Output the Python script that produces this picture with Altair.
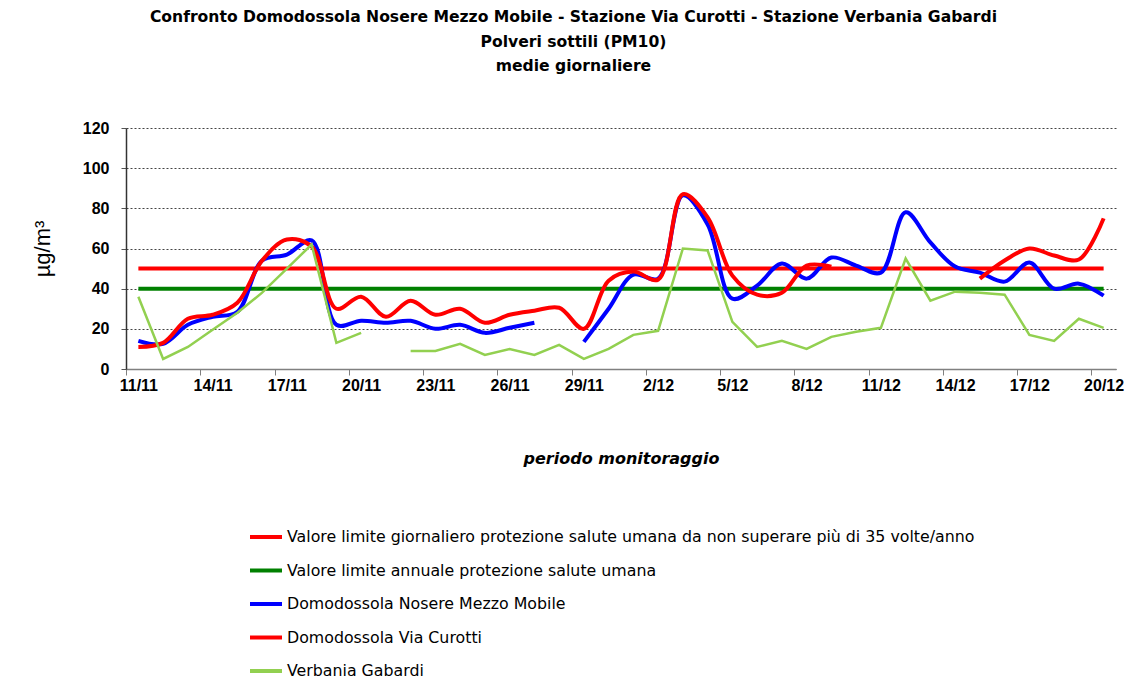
import altair as alt
import pandas as pd

# ---------------- data ----------------
days = ["11/11", "12/11", "13/11", "14/11", "15/11", "16/11", "17/11", "18/11", "19/11", "20/11",
        "21/11", "22/11", "23/11", "24/11", "25/11", "26/11", "27/11", "28/11", "29/11", "30/11",
        "1/12", "2/12", "3/12", "4/12", "5/12", "6/12", "7/12", "8/12", "9/12", "10/12",
        "11/12", "12/12", "13/12", "14/12", "15/12", "16/12", "17/12", "18/12", "19/12", "20/12"]

tick_labels = ["11/11", "14/11", "17/11", "20/11", "23/11", "26/11", "29/11",
               "2/12", "5/12", "8/12", "11/12", "14/12", "17/12", "20/12"]

nosere = [14, 12.5, 22, 26, 28.5, 54, 57, 64, 22, 24,
          23, 24, 20, 22, 18, 20.5, 23, None, 13.5, 30,
          47, 45, 86.5, 72, 35, 41.5, 52.5, 45, 55.5, 51.5,
          48, 78, 63, 51, 48, 43.5, 53, 40, 42.5, 36.5]

curotti = [11, 13, 25, 27, 33, 54, 64.5, 61, 30, 36,
           26, 34, 27, 30, 23, 27, 29, 30.5, 20, 44,
           48.5, 44.5, 87, 75.5, 46.5, 37, 38, 51.5, 51, None,
           None, None, None, None, 45, 54, 60, 56.5, 54.5, 75]

gabardi = [36, 5, 11, 19.5, 28, 38, 50, 62, 13, 18,
           None, 9, 9, 12.5, 7, 10, 7, 12, 5, 10,
           17, 19, 60, 59, 23.5, 11, 14, 10, 16, 18.5,
           20.5, 55, 34, 38.5, 38, 37, 17, 14, 25, 20.5]

limite_giornaliero = 50
limite_annuale = 40

names = ["Valore limite giornaliero protezione salute umana da non superare più di 35 volte/anno",
         "Valore limite annuale protezione salute umana",
         "Domodossola Nosere Mezzo Mobile",
         "Domodossola Via Curotti",
         "Verbania Gabardi"]
colors = ["#FF0000", "#008000", "#0000FF", "#FF0000", "#92D050"]

series_values = [
    [limite_giornaliero] * len(days),
    [limite_annuale] * len(days),
    nosere,
    curotti,
    gabardi,
]

rows = []
for name, vals in zip(names, series_values):
    seg = 0
    prev_none = False
    for i, v in enumerate(vals):
        if v is None:
            prev_none = True
            continue
        if prev_none:
            seg += 1
            prev_none = False
        rows.append({"day": i, "label": days[i], "series": name, "value": v, "seg": seg})
df = pd.DataFrame(rows)

# ---------------- chart ----------------
label_expr = "[" + ",".join("'%s'" % t for t in tick_labels) + "][round((datum.value + 0.5) / 3)]"

x_enc = alt.X(
    "day:Q",
    scale=alt.Scale(domain=[-0.5, 39.5], nice=False, zero=False),
    axis=alt.Axis(
        values=[-0.5 + 3 * k for k in range(len(tick_labels))],
        labelExpr=label_expr,
        labelOffset=12.37,
        labelFlush=False,
        labelOverlap=False,
        grid=False,
        title="periodo monitoraggio",
        titleFont="DejaVu Sans",
        titleFontSize=16,
        titleFontWeight="bold",
        titleFontStyle="italic",
        titlePadding=57,
        titleColor="#000000",
        labelFont="Liberation Sans",
        labelFontSize=16,
        labelFontWeight="bold",
        labelColor="#000000",
        labelPadding=2,
        tickSize=6,
        tickColor="#808080",
        domainColor="#808080",
        domainWidth=1.5,
    ),
)

y_enc = alt.Y(
    "value:Q",
    scale=alt.Scale(domain=[0, 120], nice=False),
    axis=alt.Axis(
        values=[0, 20, 40, 60, 80, 100, 120],
        grid=True,
        gridDash=[2, 2],
        gridColor="#444444",
        gridWidth=1,
        title="µg/m³",
        titleFont="Liberation Sans",
        titleFontSize=22,
        titleFontWeight="normal",
        titleColor="#000000",
        titlePadding=28,
        labelFont="Liberation Sans",
        labelFontSize=16,
        labelFontWeight="bold",
        labelColor="#000000",
        labelPadding=12,
        tickSize=5,
        tickColor="#555555",
        domainColor="#333333",
        domainWidth=1.5,
    ),
)

color_enc = alt.Color(
    "series:N",
    scale=alt.Scale(domain=names, range=colors),
    sort=names,
    title=None,
    legend=alt.Legend(
        orient="none",
        legendX=122,
        legendY=391,
        direction="vertical",
        symbolType="stroke",
        symbolSize=1024,
        symbolStrokeWidth=4,
        labelFont="DejaVu Sans",
        labelFontSize=15.8,
        labelColor="#000000",
        labelLimit=1000,
        labelOffset=3,
        rowPadding=7.5,
        padding=0,
    ),
)

base = alt.Chart(df).encode(x=x_enc, y=y_enc, color=color_enc, detail="seg:N", order="day:Q")

limits = base.transform_filter(
    alt.FieldOneOfPredicate(field="series", oneOf=names[:2])
).mark_line(strokeWidth=4, interpolate="linear")

blue = base.transform_filter(
    alt.FieldEqualPredicate(field="series", equal=names[2])
).mark_line(strokeWidth=4, interpolate="catmull-rom")

red = base.transform_filter(
    alt.FieldEqualPredicate(field="series", equal=names[3])
).mark_line(strokeWidth=4, interpolate="catmull-rom")

green = base.transform_filter(
    alt.FieldEqualPredicate(field="series", equal=names[4])
).mark_line(strokeWidth=2.5, interpolate="linear")

chart = alt.layer(limits, blue, red, green).properties(
    width=990,
    height=241,
    autosize=alt.AutoSizeParams(type="none"),
    padding={"left": 118, "top": 120, "right": 12, "bottom": 314},
    title=alt.TitleParams(
        text=["Confronto Domodossola Nosere Mezzo Mobile - Stazione Via Curotti - Stazione Verbania Gabardi",
              "Polveri sottili (PM10)",
              "medie giornaliere"],
        anchor="middle",
        frame="bounds",
        font="DejaVu Sans",
        fontSize=15.6,
        fontWeight="bold",
        lineHeight=24.5,
        color="#000000",
        offset=45,
        dx=-4,
    ),
).configure_view(stroke=None)

chart.save("out.html", embed_options={"renderer": "svg", "actions": False})
